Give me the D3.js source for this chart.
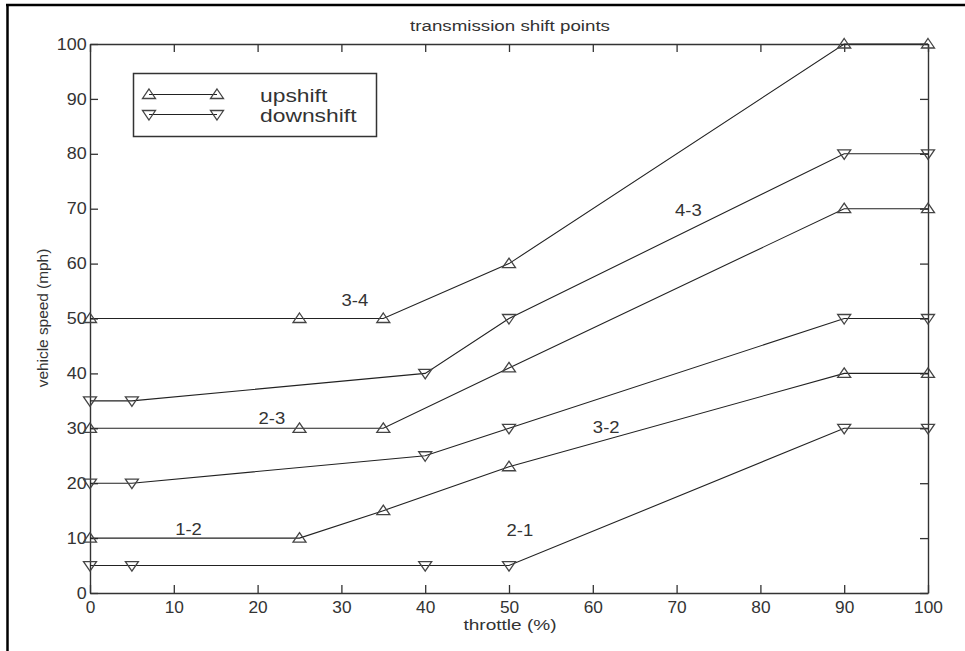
<!DOCTYPE html>
<html>
<head>
<meta charset="utf-8">
<script src="https://cdn.jsdelivr.net/npm/d3@7"></script>
<style>
  html, body { margin: 0; padding: 0; background: #fff; }
  svg { display: block; }
  text { font-family: "Liberation Sans", Arial, Helvetica, sans-serif; fill: #333; }
</style>
</head>
<body>
<svg id="chart" width="965" height="651"></svg>
<script>
// ---- data ----
const throttleUp = [0, 25, 35, 50, 90, 100];
const throttleDown = [0, 5, 40, 50, 90, 100];
const shift12 = [10, 10, 15, 23, 40, 40];
const shift23 = [30, 30, 30, 41, 70, 70];
const shift34 = [50, 50, 50, 60, 100, 100];
const shift21 = [5, 5, 5, 5, 30, 30];
const shift32 = [20, 20, 25, 30, 50, 50];
const shift43 = [35, 35, 40, 50, 80, 80];
const xTicks = [0, 10, 20, 30, 40, 50, 60, 70, 80, 90, 100];
const yTicks = [0, 10, 20, 30, 40, 50, 60, 70, 80, 90, 100];
const labelNames = ["3-4", "2-3", "1-2", "2-1", "3-2", "4-3"];
const labelX = [31.6, 21.7, 11.75, 51.3, 61.6, 71.4];
const labelY = [53.4, 31.9, 11.7, 11.5, 30.3, 69.8];
const legendNames = ["upshift", "downshift"];

const series = [
  { kind: "up", xs: throttleUp, ys: shift12 },
  { kind: "up", xs: throttleUp, ys: shift23 },
  { kind: "up", xs: throttleUp, ys: shift34 },
  { kind: "down", xs: throttleDown, ys: shift21 },
  { kind: "down", xs: throttleDown, ys: shift32 },
  { kind: "down", xs: throttleDown, ys: shift43 }
];

// ---- layout ----
const svg = d3.select("#chart");
const L = 90, R = 928, T = 44, B = 593;
const x = d3.scaleLinear().domain([0, 100]).range([L, R]);
const y = d3.scaleLinear().domain([0, 100]).range([B, T]);

// outer frame (left + top only visible)
svg.append("line").attr("x1", 7.5).attr("x2", 7.5).attr("y1", 4.5).attr("y2", 651)
  .attr("stroke", "#000").attr("stroke-width", 2.5);
svg.append("line").attr("x1", 6).attr("x2", 965).attr("y1", 5).attr("y2", 5)
  .attr("stroke", "#000").attr("stroke-width", 2.5);

function stext(g, str, tx, ty, size, sx, anchor, rot) {
  return g.append("text")
    .attr("transform", `translate(${tx},${ty})` + (rot ? ` rotate(${rot})` : "") + ` scale(${sx},1)`)
    .attr("text-anchor", anchor || "middle")
    .style("font-size", size + "px")
    .text(str);
}

// axes
const axColor = "#333";
function styleAxis(g) {
  g.selectAll("path.domain").attr("stroke", axColor).attr("stroke-width", 1.4);
  g.selectAll(".tick line").attr("stroke", axColor).attr("stroke-width", 1.3);
  g.selectAll(".tick text").attr("fill", "#333")
    .style("font-family", '"Liberation Sans", Arial, sans-serif').style("font-size", "16px");
}
const gx = svg.append("g").attr("transform", `translate(0,${B})`)
  .call(d3.axisBottom(x).tickValues(xTicks).tickSizeInner(-8).tickSizeOuter(0).tickPadding(9));
styleAxis(gx);
gx.selectAll(".tick text").attr("transform", "scale(1.08,1)");
const gy = svg.append("g").attr("transform", `translate(${L},0)`)
  .call(d3.axisLeft(y).tickValues(yTicks).tickSizeInner(-8).tickSizeOuter(0).tickPadding(3));
styleAxis(gy);
gy.selectAll(".tick text").attr("transform", "scale(1.12,1)");
const gt = svg.append("g").attr("transform", `translate(0,${T})`)
  .call(d3.axisTop(x).tickValues(xTicks).tickSizeInner(-8).tickSizeOuter(0).tickFormat(""));
styleAxis(gt);
const gr = svg.append("g").attr("transform", `translate(${R},0)`)
  .call(d3.axisRight(y).tickValues(yTicks).tickSizeInner(-8).tickSizeOuter(0).tickFormat(""));
styleAxis(gr);

// markers
const upPath = "M0,-5.5L6.5,4L-6.5,4Z";
const downPath = "M0,5.5L6.5,-4L-6.5,-4Z";
const markerStroke = "#444";

// lines
const line = d3.line().x(d => x(d[0])).y(d => y(d[1]));
const gLines = svg.append("g");
series.forEach(s => {
  const pts = s.xs.map((v, i) => [v, s.ys[i]]);
  gLines.append("path").attr("d", line(pts))
    .attr("fill", "none").attr("stroke", "#222").attr("stroke-width", 1.1);
  gLines.selectAll(null).data(pts).enter().append("path")
    .attr("d", s.kind === "up" ? upPath : downPath)
    .attr("transform", d => `translate(${x(d[0])},${y(d[1])})`)
    .attr("fill", "none").attr("stroke", markerStroke).attr("stroke-width", 1.3);
});

// shift labels
const gLab = svg.append("g");
labelNames.forEach((n, i) => {
  stext(gLab, n, x(labelX[i]), y(labelY[i]) + 6, 16.5, 1.12, "middle");
});

// legend
const lg = svg.append("g");
lg.append("rect").attr("x", 133.5).attr("y", 73.5).attr("width", 243).attr("height", 63)
  .attr("fill", "#fff").attr("stroke", "#333").attr("stroke-width", 1.5);
const legY = [94.5, 114.5];
legendNames.forEach((n, i) => {
  lg.append("line").attr("x1", 149).attr("x2", 217).attr("y1", legY[i]).attr("y2", legY[i])
    .attr("stroke", "#222").attr("stroke-width", 1.1);
  [149, 217].forEach(px => {
    lg.append("path").attr("d", i === 0 ? upPath : downPath)
      .attr("transform", `translate(${px},${legY[i]})`)
      .attr("fill", "none").attr("stroke", markerStroke).attr("stroke-width", 1.3);
  });
  stext(lg, n, 260, legY[i] + 7, 18, 1.27, "start");
});

// titles
stext(svg, "transmission shift points", 510, 31, 15, 1.25, "middle");
stext(svg, "throttle (%)", 510, 630, 15, 1.27, "middle");
stext(svg, "vehicle speed (mph)", 48, 318, 14, 1.1, "middle", -90);
</script>
</body>
</html>
